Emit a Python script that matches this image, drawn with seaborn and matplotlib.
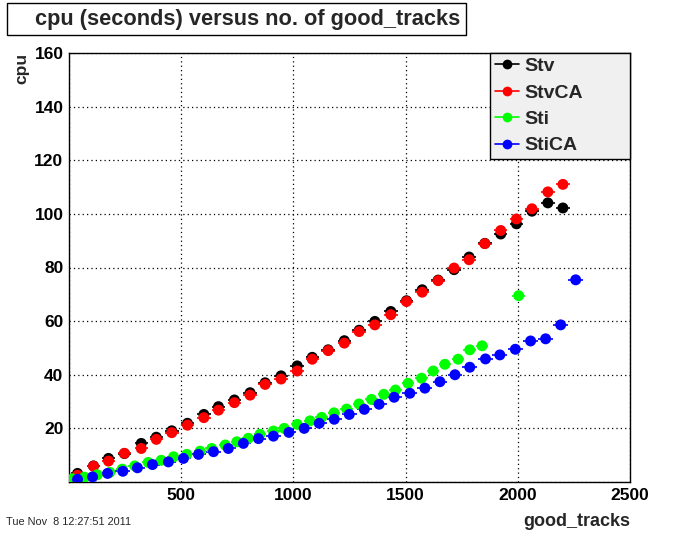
import matplotlib
matplotlib.use("Agg")
import matplotlib.pyplot as plt
from matplotlib.lines import Line2D
from matplotlib.patches import Rectangle
from matplotlib.ticker import MultipleLocator
import numpy as np
import pandas as pd
import seaborn as sns

# ---------------- data ----------------
stv_x = [38, 109, 176, 247, 322, 389, 458, 528, 601, 666, 737, 807, 874, 945, 1017, 1084,
         1155, 1227, 1293, 1363, 1434, 1504, 1574, 1645, 1716, 1783, 1853, 1924, 1994, 2063,
         2134, 2201]
stv_y = [3.2, 6.0, 8.8, 10.6, 14.4, 16.7, 19.1, 21.9, 25.2, 28.1, 30.6, 33.3, 37.0, 39.6,
         43.3, 46.5, 49.3, 52.7, 56.6, 59.9, 63.6, 67.6, 71.7, 75.3, 79.2, 83.9, 89.0, 92.5,
         96.3, 101.0, 104.1, 102.2]
stvca_x = stv_x
stvca_y = [2.5, 5.9, 7.8, 10.7, 12.5, 15.9, 18.4, 21.2, 24.0, 26.8, 29.6, 32.4, 36.4, 38.4,
           41.4, 45.8, 49.0, 51.8, 56.1, 58.6, 62.4, 67.3, 70.8, 75.1, 79.8, 82.9, 88.9, 93.8,
           98.1, 101.9, 108.2, 111.0]
sti_x = [15, 69, 126, 182, 237, 293, 353, 411, 466, 525, 584, 636, 696, 748, 799, 851, 911,
         959, 1017, 1074, 1126, 1181, 1237, 1292, 1348, 1403, 1455, 1511, 1571, 1623, 1675,
         1734, 1786, 1841, 2004]
sti_y = [1.2, 1.8, 2.7, 3.6, 4.8, 6.0, 7.3, 8.1, 9.4, 10.3, 11.5, 12.5, 13.8, 15.0, 16.3,
         17.8, 19.0, 20.0, 21.5, 22.8, 24.1, 25.8, 27.2, 29.1, 30.8, 32.7, 34.3, 36.8, 38.7,
         41.4, 43.9, 45.8, 49.3, 50.8, 69.5]
stica_x = [38, 105, 172, 240, 305, 372, 443, 510, 577, 644, 710, 777, 844, 911, 980, 1048,
           1115, 1182, 1249, 1316, 1382, 1449, 1519, 1586, 1653, 1720, 1786, 1856, 1920, 1989,
           2057, 2124, 2191, 2258]
stica_y = [1.0, 1.9, 3.2, 4.0, 5.3, 6.5, 7.5, 8.8, 10.3, 11.3, 12.5, 14.4, 16.2, 17.1, 18.5,
           20.0, 21.9, 23.4, 25.2, 27.1, 29.0, 31.6, 33.1, 35.0, 37.4, 40.0, 42.8, 45.9, 47.4,
           49.5, 52.6, 53.4, 58.6, 75.4]

series_names = ["Stv", "StvCA", "Sti", "StiCA"]
series_colors = ["#000000", "#ff0000", "#00ff00", "#0000ff"]
series_xerr = [30, 30, 28, 33]

x_ticks = [0, 500, 1000, 1500, 2000, 2500]
x_ticklabels = ["", "500", "1000", "1500", "2000", "2500"]
y_ticks = [0, 20, 40, 60, 80, 100, 120, 140, 160]
y_ticklabels = ["", "20", "40", "60", "80", "100", "120", "140", "160"]

title_text = "cpu (seconds) versus no. of good_tracks"
x_label = "good_tracks"
y_label = "cpu"
date_text = "Tue Nov  8 12:27:51 2011"

# ---------------- build table ----------------
frames = []
for name, xs, ys in zip(series_names, [stv_x, stvca_x, sti_x, stica_x],
                        [stv_y, stvca_y, sti_y, stica_y]):
    frames.append(pd.DataFrame({"good_tracks": xs, "cpu": ys, "series": name}))
df = pd.concat(frames, ignore_index=True)

sns.set_theme(style="white")
plt.rcParams["font.family"] = ["Liberation Sans", "DejaVu Sans"]

fig = plt.figure(figsize=(7.0, 5.33), dpi=100)
fig.patch.set_facecolor("white")
W, H = 700.0, 533.0
ax = fig.add_axes([69 / W, 1 - 482 / H, (630 - 69) / W, (482 - 53) / H])
ax.set_facecolor("white")

# error bars (horizontal) then markers
for name, col, xe in zip(series_names, series_colors, series_xerr):
    sub = df[df["series"] == name]
    ax.errorbar(sub["good_tracks"], sub["cpu"], xerr=xe, fmt="none", ecolor=col,
                elinewidth=1.2, capsize=0, zorder=3)
    sns.scatterplot(data=sub, x="good_tracks", y="cpu", color=col, s=62, marker="o",
                    edgecolor="none", linewidth=0, ax=ax, zorder=4, legend=False)

ax.set_xlim(0, 2500)
ax.set_ylim(0, 160)
ax.set_xticks(x_ticks)
ax.set_xticklabels(x_ticklabels)
ax.set_yticks(y_ticks)
ax.set_yticklabels(y_ticklabels)
ax.xaxis.set_minor_locator(MultipleLocator(100))
ax.yaxis.set_minor_locator(MultipleLocator(5))
ax.tick_params(axis="both", which="both", direction="in", top=False, right=False,
               colors="black", labelcolor="black")
ax.tick_params(axis="both", which="major", length=9, width=1, labelsize=12.5, pad=4)
ax.tick_params(axis="both", which="minor", length=4.8, width=1)
for lab in ax.get_xticklabels() + ax.get_yticklabels():
    lab.set_fontweight("bold")
ax.grid(True, which="major", color="black", linestyle=(0, (1, 2.5)), linewidth=0.9)
for sp in ax.spines.values():
    sp.set_visible(True)
    sp.set_color("black")
    sp.set_linewidth(1.0)
ax.set_xlabel("")
ax.set_ylabel("")

# axis titles
fig.text(630 / W, 1 - 521 / H, x_label, ha="right", va="center", fontsize=13,
         fontweight="bold")
fig.text(22 / W, 1 - 53 / H, y_label, ha="center", va="top", rotation=90, fontsize=12.5,
         fontweight="bold")

# title box
fig.patches.append(Rectangle((7 / W, 1 - 35 / H), (466 - 7) / W, 32 / H,
                             transform=fig.transFigure, facecolor="white",
                             edgecolor="black", linewidth=1.0, zorder=5))
fig.text(460 / W, 1 - 19 / H, title_text, ha="right", va="center", fontsize=15.7,
         fontweight="bold", zorder=6)

# date stamp
fig.text(6 / W, 1 - 522 / H, date_text, ha="left", va="center", fontsize=7.8)

# legend
handles = [Line2D([0], [0], color=c, marker="o", markersize=7, markeredgewidth=0,
                  linewidth=1.2) for c in series_colors]
aw, ah = 630 - 69, 482 - 53
leg = ax.legend(handles, series_names, loc="upper left",
                bbox_to_anchor=((490 - 69) / aw, 1.0, (630 - 490) / aw, 0.0),
                mode="expand", borderaxespad=0, frameon=True, fancybox=False,
                edgecolor="black", facecolor="#f0f0f0", framealpha=1,
                prop={"weight": "bold", "size": 14},
                handlelength=1.25, handletextpad=0.3, labelspacing=0.45, borderpad=0.24)
leg.get_frame().set_linewidth(1.0)
leg.set_zorder(10)

fig.savefig("out.png", dpi=100, facecolor="white")
